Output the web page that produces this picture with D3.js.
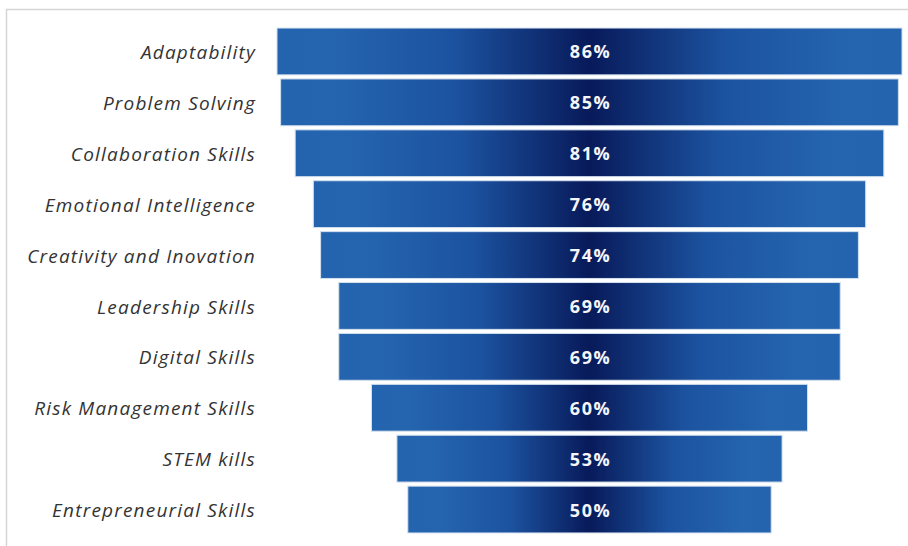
<!DOCTYPE html>
<html>
<head>
<meta charset="utf-8">
<script src="https://cdn.jsdelivr.net/npm/d3@7"></script>
<style>
  html, body { margin: 0; padding: 0; background: #fff; }
  svg { display: block; }
</style>
</head>
<body>
<svg id="chart" width="908" height="546"></svg>
<script>
const categories = [
  "Adaptability",
  "Problem Solving",
  "Collaboration Skills",
  "Emotional Intelligence",
  "Creativity and Inovation",
  "Leadership Skills",
  "Digital Skills",
  "Risk Management Skills",
  "STEM kills",
  "Entrepreneurial Skills"
];
const values = [86, 85, 81, 76, 74, 69, 69, 60, 53, 50];
const valueLabels = values.map(v => v + "%");

const data = categories.map((c, i) => ({ category: c, value: values[i], label: valueLabels[i] }));

const svg = d3.select("#chart");

// chart frame (light gray, partially cropped)
svg.append("rect")
  .attr("x", 6.5).attr("y", 9.5)
  .attr("width", 1000).attr("height", 1000)
  .attr("fill", "#fff")
  .attr("stroke", "#d6d6d6")
  .attr("stroke-width", 1.5);

// gradient
const defs = svg.append("defs");
const grad = defs.append("linearGradient")
  .attr("id", "barGrad")
  .attr("x1", "0%").attr("x2", "100%")
  .attr("y1", "0%").attr("y2", "0%");
[
  [0, "#2463ad"],
  [0.08, "#2565af"],
  [0.28, "#1c53a0"],
  [0.5, "#081a5a"],
  [0.72, "#1c53a0"],
  [0.92, "#2565af"],
  [1, "#2463ad"]
].forEach(([o, c]) => grad.append("stop").attr("offset", o).attr("stop-color", c));

const x = d3.scaleLinear().domain([-43, 43]).range([277, 902]);
const y = d3.scaleBand()
  .domain(categories)
  .range([26, 535])
  .paddingInner(0.08)
  .paddingOuter(0.04);

const bars = svg.append("g").selectAll("g.bar")
  .data(data)
  .join("g")
  .attr("class", "bar");

bars.append("rect")
  .attr("x", d => x(-d.value / 2))
  .attr("y", d => y(d.category))
  .attr("width", d => x(d.value / 2) - x(-d.value / 2))
  .attr("height", y.bandwidth())
  .attr("fill", "url(#barGrad)")
  .attr("stroke", "#d3e0ee")
  .attr("stroke-width", 1);

bars.append("text")
  .attr("x", d => x(0) + 1)
  .attr("y", d => y(d.category) + y.bandwidth() / 2)
  .attr("text-anchor", "middle")
  .attr("dominant-baseline", "central")
  .attr("fill", "#f4f6fa")
  .style("font-family", "'Open Sans', sans-serif")
  .style("font-weight", "bold")
  .style("font-size", "18px")
  .style("letter-spacing", "1.5px")
  .text(d => d.label);

// category axis
const axis = svg.append("g")
  .attr("transform", "translate(257,1.5)")
  .call(d3.axisLeft(y).tickSize(0).tickPadding(1));
axis.select(".domain").remove();
axis.selectAll("text")
  .attr("fill", "#333333")
  .style("font-family", "'Open Sans', sans-serif")
  .style("font-style", "italic")
  .style("font-size", "19px")
  .style("letter-spacing", "1.2px");
</script>
</body>
</html>
